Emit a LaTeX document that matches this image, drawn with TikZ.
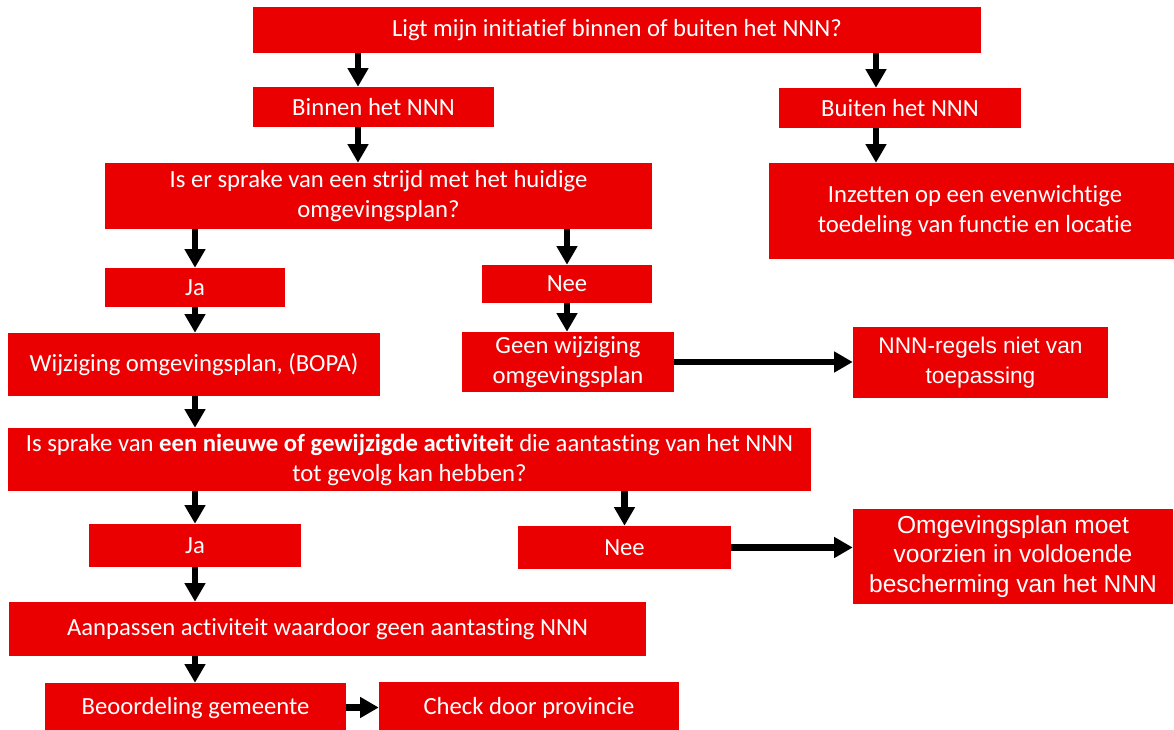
\documentclass[tikz,border=0pt]{standalone}
\usepackage{fontspec}
\setmainfont{Carlito}[Ligatures={NoCommon}]
\newfontfamily\arialf{Liberation Sans}
\usetikzlibrary{arrows.meta}
\definecolor{boxred}{RGB}{234,0,0}
\tikzset{
  box/.style={fill=boxred, text=white, inner sep=0pt, align=center, font=\fontsize{18.5}{22.5}\selectfont},
  arialbox/.style={font=\arialf\fontsize{17}{22.5}\selectfont},
  arialbig/.style={font=\arialf\fontsize{18.4}{22}\selectfont},
  arr/.style={-{Triangle[width=15pt,length=14pt]}, line width=5pt, draw=black},
}
\newcommand{\rbox}[7][]{\node[box,#1, minimum width={(#5-#3)*0.75pt}, minimum height={(#6-#4)*0.75pt}] (#2) at ({(#3+#5)/2},{(#4+#6)/2}) {#7};}
\begin{document}
\begin{tikzpicture}[x=0.75pt,y=-0.75pt]
\useasboundingbox (0,0) rectangle (1174,730);
\clip (0,0) rectangle (1174,730);
\fill[white] (0,0) rectangle (1174,730);
\rbox{top}{253}{7}{981}{53}{Ligt mijn initiatief binnen of buiten het NNN?}
\rbox{bin}{253}{87}{494}{127}{Binnen het NNN}
\rbox{bui}{779}{88}{1021}{128}{Buiten het NNN}
\rbox{strijd}{105}{163}{652}{229}{Is er sprake van een strijd met het huidige\\omgevingsplan?}
\rbox{inz}{769}{163}{1181}{259}{Inzetten op een evenwichtige\\toedeling van functie en locatie}
\rbox{ja1}{105}{268}{285}{307}{Ja}
\rbox{nee1}{482}{265}{652}{303}{Nee}
\rbox{wijz}{8}{333}{380}{396}{Wijziging omgevingsplan, (BOPA)}
\rbox{geen}{462}{332}{674}{392}{Geen wijziging\\omgevingsplan}
\rbox[arialbox]{nnn}{853}{327}{1108}{398}{NNN-regels niet van\\toepassing}
\rbox{nieuwe}{8}{428}{811}{491}{Is sprake van \textbf{een nieuwe of gewijzigde activiteit} die aantasting van het NNN\\tot gevolg kan hebben?}
\rbox{ja2}{89}{524}{301}{567}{Ja}
\rbox{nee2}{518}{526}{731}{569}{Nee}
\rbox[arialbig]{omg}{853}{509}{1173}{604}{Omgevingsplan moet\\voorzien in voldoende\\bescherming van het NNN}
\rbox{aanp}{9}{602}{646}{656}{Aanpassen activiteit waardoor geen aantasting NNN}
\rbox{beo}{45}{683}{346}{733}{Beoordeling gemeente}
\rbox{check}{379}{682}{679}{733}{Check door provincie}
\coordinate (xa) at (358,0);
\coordinate (xb) at (876,0);
\coordinate (xc) at (195,0);
\draw[arr] (top.south -| xa) -- (bin.north -| xa);
\draw[arr] (top.south -| xb) -- (bui.north -| xb);
\draw[arr] (bin.south -| xa) -- (strijd.north -| xa);
\draw[arr] (bui.south -| xb) -- (inz.north -| xb);
\draw[arr] (strijd.south -| ja1.north) -- (ja1.north);
\draw[arr] (strijd.south -| nee1.north) -- (nee1.north);
\draw[arr] (ja1.south -| xc) -- (wijz.north -| xc);
\draw[arr] (nee1.south) -- (geen.north -| nee1.south);
\draw[arr] (geen.east) -- (geen.east -| nnn.west);
\draw[arr] (wijz.south -| xc) -- (nieuwe.north -| xc);
\draw[arr] (nieuwe.south -| xc) -- (ja2.north -| xc);
\draw[arr] (nieuwe.south -| nee2.north) -- (nee2.north);
\draw[arr] (nee2.east) -- (nee2.east -| omg.west);
\draw[arr] (ja2.south -| xc) -- (aanp.north -| xc);
\draw[arr] (aanp.south -| xc) -- (beo.north -| xc);
\draw[arr] (beo.east |- check.west) -- (check.west);
\end{tikzpicture}
\end{document}
